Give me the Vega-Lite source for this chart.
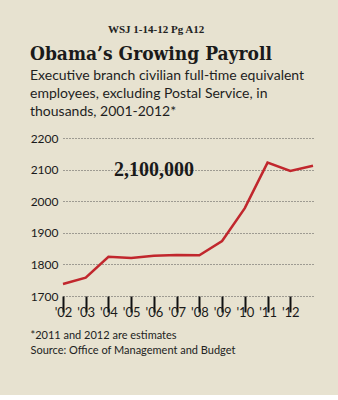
{
  "$schema": "https://vega.github.io/schema/vega-lite/v6.json",
  "background": "#e7e2d0",
  "padding": {"left": 30, "right": 26, "top": 24, "bottom": 40},
  "title": {"text": "WSJ 1-14-12 Pg A12", "anchor": "start", "dx": 78, "font": "Liberation Serif", "fontSize": 11, "fontWeight": "bold", "color": "#222222", "offset": 10},
  "config": {"view": {"stroke": null}, "concat": {"spacing": 0}},
  "vconcat": [
    {
      "width": 250,
      "height": 158,
      "title": {
        "text": "Obama’s Growing Payroll",
        "subtitle": ["Executive branch civilian full-time equivalent", "employees, excluding Postal Service, in", "thousands, 2001-2012*"],
        "anchor": "start",
        "font": "DejaVu Serif Condensed",
        "fontSize": 19,
        "fontWeight": "bold",
        "color": "#1a1a1a",
        "subtitleFont": "Lato",
        "subtitleFontSize": 14,
        "subtitleColor": "#1e1e1e",
        "subtitleLineHeight": 18,
        "subtitlePadding": 5,
        "offset": 13
      },
      "data": {"values": [
        {"year": 2001, "value": 1738},
        {"year": 2002, "value": 1758},
        {"year": 2003, "value": 1824},
        {"year": 2004, "value": 1820},
        {"year": 2005, "value": 1827},
        {"year": 2006, "value": 1830},
        {"year": 2007, "value": 1829},
        {"year": 2008, "value": 1874},
        {"year": 2009, "value": 1978},
        {"year": 2010, "value": 2122},
        {"year": 2011, "value": 2096},
        {"year": 2012, "value": 2112}
      ]},
      "encoding": {
        "x": {
          "field": "year", "type": "quantitative",
          "scale": {"domain": [2001, 2012], "nice": false, "zero": false},
          "axis": {
            "values": [2001, 2002, 2003, 2004, 2005, 2006, 2007, 2008, 2009, 2010, 2011],
            "labelExpr": "\"'\" + substring(toString(datum.value + 1), 2, 4)",
            "labelDx": 12, "labelAlign": "center", "labelFlush": false, "labelOverlap": false,
            "ticks": true, "tickSize": 16, "tickColor": "#111111", "tickWidth": 2, "tickOpacity": 1, "labelPadding": -6,
            "domain": false, "grid": false,
            "labelFont": "Lato", "labelFontSize": 13, "labelColor": "#1a1a1a",
            "title": ["*2011 and 2012 are estimates", "Source: Office of Management and Budget"],
            "titleFont": "Lato", "titleFontSize": 11, "titleFontWeight": "normal", "titleColor": "#222222",
            "titleAnchor": "start", "titleAlign": "left", "titleX": -33, "titleY": 33, "titleBaseline": "top", "titleLineHeight": 15
          }
        },
        "y": {
          "field": "value", "type": "quantitative",
          "scale": {"domain": [1700, 2200], "nice": false, "zero": false},
          "axis": {
            "values": [1700, 1800, 1900, 2000, 2100, 2200],
            "format": "d",
            "domain": false, "ticks": false, "labelPadding": 5,
            "labelFont": "Lato", "labelFontSize": 12, "labelColor": "#1a1a1a",
            "grid": true, "gridDash": [1, 2], "gridColor": "#555555", "gridWidth": 1,
            "title": null
          }
        }
      },
      "layer": [
        {"mark": {"type": "line", "color": "#c1272d", "strokeWidth": 2.5}},
        {
          "data": {"values": [{"year": 2005, "value": 2100, "label": "2,100,000"}]},
          "mark": {"type": "text", "font": "Liberation Serif", "fontWeight": "bold", "fontSize": 20, "color": "#1a1a1a", "baseline": "middle", "align": "center"},
          "encoding": {"text": {"field": "label"}}
        }
      ]
    }
  ]
}
